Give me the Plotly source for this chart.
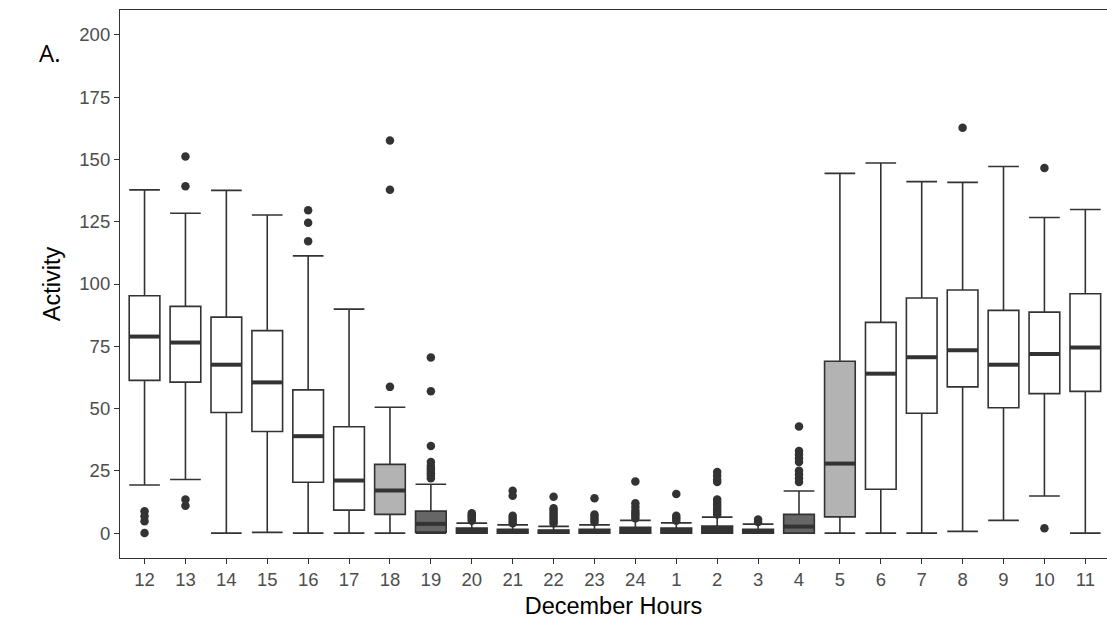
import plotly.graph_objects as go

hours = ["12", "13", "14", "15", "16", "17", "18", "19", "20", "21", "22", "23",
         "24", "1", "2", "3", "4", "5", "6", "7", "8", "9", "10", "11"]

lower_whisker = [19.3, 21.5, 0, 0.3, 0, 0, 0, 0, 0, 0, 0, 0,
                 0, 0, 0, 0, 0, 0, 0, 0, 0.7, 5.1, 14.9, 0]
q1_vals = [61.3, 60.6, 48.4, 40.8, 20.4, 9.2, 7.5, 0.4, 0, 0, 0, 0,
           0, 0, 0, 0, 0, 6.5, 17.6, 48.1, 58.7, 50.3, 56.0, 56.9]
median_vals = [78.9, 76.5, 67.6, 60.5, 38.9, 21.1, 17.1, 3.7, 1.0, 0.5, 0.5, 0.7,
               1.0, 1.0, 1.0, 0.7, 2.6, 27.9, 64.0, 70.6, 73.4, 67.6, 71.9, 74.5]
q3_vals = [95.3, 91.0, 86.7, 81.3, 57.5, 42.7, 27.6, 8.8, 2.0, 1.5, 1.2, 1.5,
           2.3, 2.0, 2.8, 1.5, 7.5, 69.0, 84.6, 94.4, 97.6, 89.4, 88.7, 96.1]
upper_whisker = [137.8, 128.4, 137.6, 127.7, 111.3, 89.9, 50.5, 19.6, 4.0, 3.3, 2.7, 3.3,
                 5.1, 4.1, 6.4, 3.6, 16.9, 144.4, 148.6, 141.1, 140.8, 147.2, 126.7, 129.9]

outliers = {
    "12": [8.8, 6.8, 4.8, 0],
    "13": [151.2, 139.2, 13.5, 11],
    "16": [129.6, 124.6, 117.2],
    "18": [157.6, 137.8, 58.7],
    "19": [70.5, 56.9, 35, 28.5, 27, 26, 25, 24, 23, 22],
    "20": [8, 7.2, 6.5, 5.8, 5],
    "21": [17, 15, 7, 6, 5, 4],
    "22": [14.6, 10, 9, 8, 7, 6, 5, 4],
    "23": [14, 7.5, 6.5, 5.5, 4.5],
    "24": [20.7, 12, 10.5, 9, 8, 7, 6],
    "1": [15.7, 7, 6, 5],
    "2": [24.5, 23, 21.5, 20.5, 13.5, 12.5, 11.5, 10.5, 9.5, 8.5, 7.5],
    "3": [5.5, 4.5],
    "4": [42.8, 33, 31.5, 30, 28.5, 25, 23.5, 22, 20.5],
    "8": [162.7],
    "10": [146.6, 1.9],
}

fills = ["#FFFFFF", "#FFFFFF", "#FFFFFF", "#FFFFFF", "#FFFFFF", "#FFFFFF", "#B3B3B3", "#666666",
         "#333333", "#333333", "#333333", "#333333", "#333333", "#333333", "#333333", "#333333",
         "#666666", "#B3B3B3", "#FFFFFF", "#FFFFFF", "#FFFFFF", "#FFFFFF", "#FFFFFF", "#FFFFFF"]

y_ticks = [0, 25, 50, 75, 100, 125, 150, 175, 200]

LINE = "#333333"
BOX_W = 0.75
FONT = "Liberation Sans, Arial, sans-serif"

fig = go.Figure()

positions = list(range(len(hours)))
for i, h in enumerate(hours):
    fig.add_trace(go.Box(
        x=[positions[i]],
        q1=[q1_vals[i]], median=[median_vals[i]], q3=[q3_vals[i]],
        lowerfence=[lower_whisker[i]], upperfence=[upper_whisker[i]],
        fillcolor=fills[i],
        line=dict(color=LINE, width=1.6),
        width=BOX_W, whiskerwidth=1,
        boxpoints=False, showlegend=False, hoverinfo="skip",
    ))

# thicker median lines (ggplot fatten)
mx, my = [], []
for i, m in enumerate(median_vals):
    mx += [positions[i] - BOX_W / 2, positions[i] + BOX_W / 2, None]
    my += [m, m, None]
fig.add_trace(go.Scatter(x=mx, y=my, mode="lines", line=dict(color=LINE, width=4),
                         showlegend=False, hoverinfo="skip"))

ox, oy = [], []
for i, h in enumerate(hours):
    for v in outliers.get(h, []):
        ox.append(positions[i])
        oy.append(v)
fig.add_trace(go.Scatter(x=ox, y=oy, mode="markers",
                         marker=dict(color=LINE, size=8.5, line=dict(width=0)),
                         showlegend=False, hoverinfo="skip"))

fig.add_annotation(text="A.", xref="paper", yref="paper", x=-0.071, y=0.923,
                   xanchor="center", yanchor="middle", showarrow=False,
                   font=dict(family="Open Sans, Lato, sans-serif", size=24, color="black"))

fig.update_layout(
    width=1107, height=622,
    margin=dict(l=120, r=0, t=10, b=64),
    plot_bgcolor="white", paper_bgcolor="white",
    font=dict(family=FONT),
    boxgap=0, boxgroupgap=0,
)
fig.update_xaxes(
    range=[-0.6, 23.53],
    tickmode="array", tickvals=positions, ticktext=hours,
    showline=True, linecolor=LINE, linewidth=1.2, mirror=True,
    ticks="outside", ticklen=5, tickcolor=LINE, tickwidth=1.2,
    tickfont=dict(size=18.5, color="#4D4D4D", family=FONT),
    showgrid=False, zeroline=False,
    title=dict(text="December Hours", font=dict(size=23.5, color="black", family=FONT), standoff=8),
)
fig.update_yaxes(
    range=[-10, 210],
    tickmode="array", tickvals=y_ticks,
    showline=True, linecolor=LINE, linewidth=1.2,
    ticks="outside", ticklen=5, tickcolor=LINE, tickwidth=1.2,
    tickfont=dict(size=18.5, color="#4D4D4D", family=FONT),
    showgrid=False, zeroline=False,
    title=dict(text="Activity", font=dict(size=23.5, color="black", family=FONT), standoff=12),
)

fig.write_html("out.html", config={"displayModeBar": False},
               post_script="document.body.style.margin='0';document.body.style.overflow='hidden';")
